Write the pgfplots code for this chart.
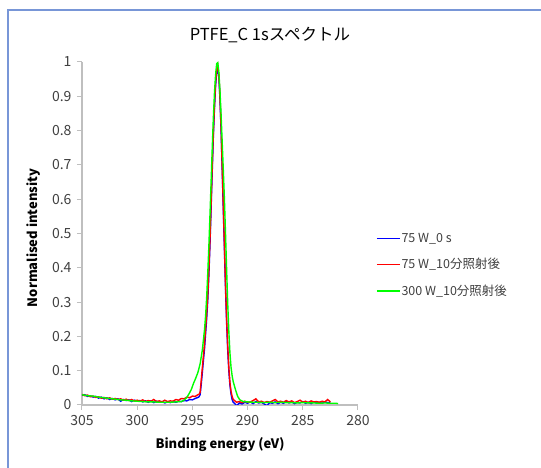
\documentclass[border=0pt]{standalone}
\usepackage{pgfplots}
\pgfplotsset{compat=1.18}
\usepackage{fontspec}
\setmainfont{Noto Sans CJK JP}
\definecolor{axgray}{RGB}{191,191,191}
\definecolor{txtgray}{RGB}{64,64,64}
\definecolor{frameblue}{RGB}{120,150,215}
\begin{document}
\begin{tikzpicture}[x=1pt,y=1pt]
\useasboundingbox (-82,-63) rectangle (459,405);
\draw[frameblue, line width=1.5pt] (-74,-70) -- (-74,395) -- (470,395);
\begin{axis}[
  at={(0pt,0pt)}, anchor=south west,
  scale only axis, width=276pt, height=343pt,
  xmin=280, xmax=305, x dir=reverse,
  ymin=0, ymax=1,
  xtick={280,285,290,295,300,305},
  ytick={0,0.1,0.2,0.3,0.4,0.5,0.6,0.7,0.8,0.9,1},
  axis x line*=bottom, axis y line*=left,
  axis line style={axgray, line width=1.3pt},
  every tick/.style={axgray, line width=1pt},
  tick align=outside, major tick length=5pt,
  /pgf/number format/assume math mode=true,
  ticklabel style={font=\fontsize{14}{16}\selectfont, text=txtgray},
  yticklabel style={xshift=-2pt},
  xticklabel style={yshift=-2pt},
  title={PTFE\_C 1sスペクトル},
  title style={font=\fontsize{16.5}{18}\selectfont, at={(axis description cs:0.681,1.044)}, anchor=base},
  xlabel={Binding energy (eV)},
  xlabel style={font=\bfseries\fontsize{13}{15}\selectfont, at={(axis description cs:0.5,-0.128)}, anchor=base},
  ylabel={Normalised intensity},
  ylabel style={font=\bfseries\fontsize{13}{15}\selectfont, at={(axis description cs:-0.163,0.487)}, anchor=base},
  legend style={draw=none, fill=none, at={(axis description cs:1.065,0.408)}, anchor=west,
    font=\fontsize{12.5}{14}\selectfont, row sep=12.5pt, inner sep=0pt,
    nodes={inner sep=1pt}},
  legend cell align=left,
  legend image code/.code={\draw[#1, line width=1.4pt] (0pt,0pt) -- (23pt,0pt);},
]
\addplot[blue, line width=1.4pt] coordinates {
(305.00,0.028)(304.75,0.030)(304.50,0.025)(304.25,0.027)(304.00,0.023)(303.75,0.025)
(303.50,0.020)(303.25,0.023)(303.00,0.018)(302.75,0.021)(302.50,0.016)(302.25,0.019)
(302.00,0.015)(301.75,0.018)(301.50,0.011)(301.25,0.016)(301.00,0.013)(300.75,0.015)
(300.50,0.010)(300.25,0.014)(300.00,0.011)(299.75,0.013)(299.50,0.009)(299.25,0.012)
(299.00,0.008)(298.75,0.012)(298.50,0.007)(298.25,0.011)(298.00,0.008)(297.75,0.010)
(297.50,0.006)(297.25,0.009)(297.00,0.007)(296.75,0.010)(296.50,0.008)(296.25,0.011)
(296.00,0.010)(295.75,0.013)(295.50,0.012)(295.25,0.016)(295.00,0.015)(294.75,0.019)
(294.50,0.022)(294.40,0.024)
(294.30,0.030)(294.20,0.060)(294.10,0.095)(294.00,0.130)(293.90,0.165)(293.80,0.210)
(293.70,0.255)(293.60,0.310)(293.50,0.385)(293.40,0.475)(293.30,0.580)(293.20,0.685)
(293.10,0.785)(293.00,0.865)(292.90,0.930)(292.80,0.970)(292.70,0.980)(292.60,0.955)
(292.50,0.890)(292.40,0.800)(292.30,0.685)(292.20,0.570)(292.10,0.455)(292.00,0.340)
(291.90,0.240)(291.80,0.160)(291.70,0.100)(291.60,0.058)(291.50,0.032)(291.40,0.016)
(291.30,0.008)(291.15,0.004)(291.00,-0.003)(290.75,0.006)(290.50,0.003)(290.25,0.008)
(290.00,0.005)(289.75,0.009)(289.50,0.004)(289.25,0.010)(289.00,0.006)(288.75,0.008)
(288.50,0.003)(288.25,-0.002)(288.00,0.007)(287.75,0.005)(287.50,0.009)(287.25,0.004)
(287.00,0.008)(286.75,0.005)(286.50,0.010)(286.25,0.006)(286.00,0.009)(285.75,0.004)
(285.50,0.008)(285.25,0.006)(285.00,0.010)(284.75,0.005)(284.50,0.008)(284.25,0.004)
(284.00,0.009)(283.75,0.006)(283.50,0.008)(283.25,0.005)(283.00,0.009)(282.75,0.007)
(282.50,0.006)
};
\addlegendentry{\textcolor{txtgray}{75 W\_0 s}}
\addplot[red, line width=1.4pt] coordinates {
(305.00,0.031)(304.75,0.027)(304.50,0.029)(304.25,0.024)(304.00,0.026)(303.75,0.022)
(303.50,0.024)(303.25,0.020)(303.00,0.022)(302.75,0.018)(302.50,0.021)(302.25,0.017)
(302.00,0.019)(301.75,0.016)(301.50,0.018)(301.25,0.014)(301.00,0.017)(300.75,0.013)
(300.50,0.016)(300.25,0.012)(300.00,0.014)(299.75,0.011)(299.50,0.015)(299.25,0.010)
(299.00,0.013)(298.75,0.011)(298.50,0.016)(298.25,0.010)(298.00,0.012)(297.75,0.009)
(297.50,0.014)(297.25,0.010)(297.00,0.012)(296.75,0.011)(296.50,0.016)(296.25,0.014)
(296.00,0.019)(295.75,0.018)(295.50,0.023)(295.25,0.021)(295.00,0.026)(294.75,0.025)
(294.50,0.030)(294.40,0.031)
(294.30,0.037)(294.20,0.072)(294.10,0.108)(294.00,0.143)(293.90,0.180)(293.80,0.225)
(293.70,0.270)(293.60,0.325)(293.50,0.400)(293.40,0.490)(293.30,0.595)(293.20,0.700)
(293.10,0.795)(293.00,0.875)(292.90,0.940)(292.80,0.978)(292.70,0.990)(292.60,0.962)
(292.50,0.897)(292.40,0.808)(292.30,0.695)(292.20,0.582)(292.10,0.468)(292.00,0.352)
(291.90,0.252)(291.80,0.172)(291.70,0.110)(291.60,0.066)(291.50,0.040)(291.40,0.025)
(291.30,0.016)(291.15,0.012)(291.00,0.008)(290.75,0.010)(290.50,0.007)(290.25,0.011)
(290.00,0.008)(289.75,0.009)(289.50,0.013)(289.25,0.018)(289.00,0.009)(288.75,0.011)
(288.50,0.007)(288.25,0.010)(288.00,0.008)(287.75,0.012)(287.50,0.016)(287.25,0.009)
(287.00,0.011)(286.75,0.008)(286.50,0.013)(286.25,0.009)(286.00,0.012)(285.75,0.007)
(285.50,0.010)(285.25,0.014)(285.00,0.008)(284.75,0.011)(284.50,0.007)(284.25,0.012)
(284.00,0.009)(283.75,0.010)(283.50,0.008)(283.25,0.011)(283.00,0.009)(282.75,0.016)
(282.50,0.009)
};
\addlegendentry{\textcolor{txtgray}{75 W\_10分照射後}}
\addplot[green, line width=1.4pt] coordinates {
(305.0,0.030)(304.5,0.027)(304.0,0.026)(303.5,0.023)(303.0,0.021)(302.5,0.019)
(302.0,0.017)(301.5,0.015)(301.0,0.014)(300.5,0.012)(300.0,0.011)(299.5,0.010)
(299.0,0.009)(298.5,0.009)(298.0,0.008)(297.5,0.008)(297.0,0.008)(296.5,0.009)
(296.0,0.010)(295.7,0.015)(295.5,0.022)(295.3,0.033)(295.1,0.045)(294.9,0.063)
(294.7,0.078)(294.5,0.095)(294.3,0.120)(294.1,0.160)(293.9,0.220)(293.8,0.262)
(293.7,0.318)(293.6,0.390)(293.5,0.470)(293.4,0.560)(293.3,0.655)(293.2,0.750)
(293.1,0.838)(293.0,0.910)(292.9,0.962)(292.8,0.995)(292.7,0.998)(292.6,0.968)
(292.5,0.915)(292.4,0.845)(292.3,0.765)(292.2,0.685)(292.1,0.600)(292.0,0.500)
(291.9,0.395)(291.8,0.295)(291.7,0.215)(291.6,0.152)(291.5,0.110)(291.4,0.085)
(291.3,0.068)(291.1,0.045)(290.9,0.025)(290.7,0.015)(290.4,0.010)(290.0,0.009)
(289.5,0.008)(289.0,0.008)(288.5,0.007)(288.0,0.008)(287.5,0.007)(287.0,0.008)
(286.5,0.007)(286.0,0.007)(285.5,0.006)(285.0,0.007)(284.5,0.006)(284.0,0.006)
(283.5,0.005)(283.0,0.006)(282.5,0.005)(282.0,0.005)(281.8,0.004)
};
\addlegendentry{\textcolor{txtgray}{300 W\_10分照射後}}
\end{axis}
\end{tikzpicture}
\end{document}
